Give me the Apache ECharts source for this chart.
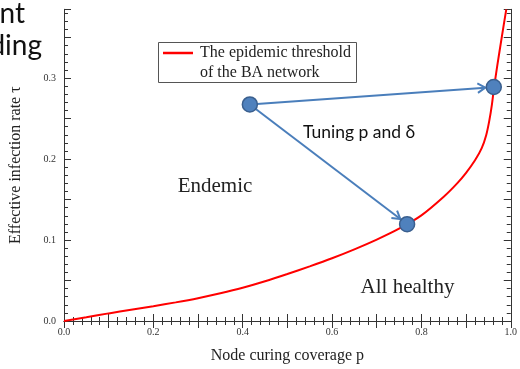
<!DOCTYPE html>
<html><head><meta charset="utf-8">
<script src="https://cdn.jsdelivr.net/npm/echarts@6/dist/echarts.min.js"></script>
<style>html,body{margin:0;padding:0;background:#fff}#c{width:520px;height:369px}</style>
</head><body><div id="c"></div>
<script>
// ---- data ----
const curveP   = [0, 0.05, 0.10, 0.15, 0.20, 0.25, 0.30, 0.35, 0.40, 0.45, 0.50, 0.55, 0.60, 0.65, 0.70, 0.75, 0.80, 0.85, 0.88, 0.90, 0.92, 0.935, 0.945, 0.952, 0.958, 0.962, 0.97, 0.98, 0.99];
const curveTau = [0, 0.0046, 0.0094, 0.0139, 0.0183, 0.0230, 0.0282, 0.0342, 0.0410, 0.0490, 0.0580, 0.0675, 0.0775, 0.0885, 0.1005, 0.1140, 0.1305, 0.1535, 0.170, 0.1830, 0.1985, 0.2135, 0.2295, 0.2475, 0.268, 0.286, 0.316, 0.351, 0.385];
const pointP   = [0.416, 0.768, 0.962];
const pointTau = [0.2675, 0.1196, 0.289];
const arrowFrom = [0, 0];
const arrowTo   = [1, 2];
const xTickLabels = ['0.0', '0.2', '0.4', '0.6', '0.8', '1.0'];
const yTickLabels = ['0.0', '0.1', '0.2', '0.3'];
const seriesName = 'The epidemic threshold of the BA network';

const SERIF = '"Liberation Serif", "DejaVu Serif", serif';
const SANS = 'Lato, "Noto Sans", sans-serif';
const AX = '#333';

function labelAt(v, step, labels) {
  const k = Math.round(v / step);
  return Math.abs(v - k * step) < 1e-6 && k < labels.length ? labels[k] : '';
}

const chart = echarts.init(document.getElementById('c'), null, {renderer: 'canvas'});

const baseX = {
  type: 'value', min: 0, max: 1, interval: 0.1,
  axisLine: {show: true, lineStyle: {color: AX, width: 1}},
  axisTick: {show: true, inside: true, length: 7, lineStyle: {color: AX}},
  minorTick: {show: true, splitNumber: 5, length: 4, lineStyle: {color: AX}},
  splitLine: {show: false}
};
function yAx(pos, interval, len, withLine, extra) {
  return Object.assign({
    type: 'value', min: 0, max: 0.385, interval: interval, position: pos,
    axisLine: {show: withLine, onZero: false, lineStyle: {color: AX, width: 1}},
    axisTick: {show: true, inside: true, length: len, lineStyle: {color: AX}},
    axisLabel: {show: false},
    splitLine: {show: false}
  }, extra || {});
}

const option = {
  animation: false,
  backgroundColor: '#fff',
  grid: {left: 64, right: 7, top: 9.3, bottom: 45.7, containLabel: false},
  xAxis: [
    Object.assign({}, baseX, {
      position: 'bottom',
      axisLabel: {show: true, margin: 6, fontFamily: SERIF, fontSize: 10, color: '#333',
        formatter: v => labelAt(v, 0.2, xTickLabels)},
      name: 'Node curing coverage p', nameLocation: 'middle', nameGap: 27,
      nameTextStyle: {fontFamily: SERIF, fontSize: 16, color: '#222'}
    }),
    Object.assign({}, baseX, {position: 'top', axisLabel: {show: false}})
  ],
  yAxis: [
    yAx('left', 0.05, 7, true, {
      axisLabel: {show: true, margin: 8, fontFamily: SERIF, fontSize: 10, color: '#333',
        formatter: v => labelAt(v, 0.1, yTickLabels)},
      name: 'Effective infection rate τ', nameLocation: 'middle', nameGap: 40,
      nameTextStyle: {fontFamily: SERIF, fontSize: 16, color: '#222'}
    }),
    yAx('left', 0.01, 4, false),
    yAx('right', 0.05, 7, true),
    yAx('right', 0.01, 4, false)
  ],
  series: [
    {
      name: seriesName, type: 'line',
      data: curveP.map((p, i) => [p, curveTau[i]]),
      smooth: 0.25, showSymbol: false,
      lineStyle: {color: '#ff0000', width: 2}, z: 2
    },
    {
      type: 'custom',
      data: arrowFrom.map((f, i) => [pointP[f], pointTau[f], pointP[arrowTo[i]], pointTau[arrowTo[i]]]),
      encode: {x: [0, 2], y: [1, 3]},
      z: 3,
      renderItem: function (params, api) {
        const a = api.coord([api.value(0), api.value(1)]);
        const b = api.coord([api.value(2), api.value(3)]);
        const dx = b[0] - a[0], dy = b[1] - a[1], L = Math.hypot(dx, dy);
        const ux = dx / L, uy = dy / L;
        const r = 8.5;
        const tip = [b[0] - ux * r, b[1] - uy * r];
        const head = 9, t = 0.55;
        const rot = (vx, vy, th) => [vx * Math.cos(th) - vy * Math.sin(th), vx * Math.sin(th) + vy * Math.cos(th)];
        const w1 = rot(-ux, -uy, t), w2 = rot(-ux, -uy, -t);
        const style = {stroke: '#4a7ebb', lineWidth: 2, fill: null};
        return {
          type: 'group',
          children: [
            {type: 'line', shape: {x1: a[0], y1: a[1], x2: tip[0], y2: tip[1]}, style: style},
            {type: 'polyline', shape: {points: [[tip[0] + w1[0] * head, tip[1] + w1[1] * head], tip, [tip[0] + w2[0] * head, tip[1] + w2[1] * head]]}, style: style}
          ]
        };
      }
    },
    {
      type: 'scatter',
      data: pointP.map((p, i) => [p, pointTau[i]]),
      symbol: 'circle', symbolSize: 15,
      itemStyle: {color: '#4f81bd', borderColor: '#3a5f8e', borderWidth: 1.5, opacity: 1},
      z: 5
    }
  ],
  graphic: [
    {type: 'rect', shape: {x: 158.5, y: 42.5, width: 198, height: 40}, style: {fill: '#fff', stroke: '#555', lineWidth: 1}, z: 10},
    {type: 'line', shape: {x1: 163, y1: 53, x2: 193, y2: 53}, style: {stroke: '#ff0000', lineWidth: 2.5}, z: 11},
    {type: 'text', x: 200, y: 53, style: {text: 'The epidemic threshold', font: '16px ' + SERIF, fill: '#222', verticalAlign: 'middle', align: 'left'}, z: 11},
    {type: 'text', x: 200, y: 73, style: {text: 'of the BA network', font: '16px ' + SERIF, fill: '#222', verticalAlign: 'middle', align: 'left'}, z: 11},
    {type: 'text', x: 215, y: 186, style: {text: 'Endemic', font: '21px ' + SERIF, fill: '#222', verticalAlign: 'middle', align: 'center'}, z: 11},
    {type: 'text', x: 407.5, y: 287, style: {text: 'All healthy', font: '21px ' + SERIF, fill: '#222', verticalAlign: 'middle', align: 'center'}, z: 11},
    {type: 'text', x: 303, y: 132, style: {text: 'Tuning p and δ', font: '17.5px ' + SANS, fill: '#111', verticalAlign: 'middle', align: 'left'}, z: 11},
    {type: 'text', x: 25, y: 14, style: {text: 'nt', font: '28px ' + SANS, fill: '#111', verticalAlign: 'middle', align: 'right'}, z: 11},
    {type: 'text', x: 42, y: 46, style: {text: 'ding', font: '28px ' + SANS, fill: '#111', verticalAlign: 'middle', align: 'right'}, z: 11}
  ]
};
chart.setOption(option);
</script>
</body></html>
